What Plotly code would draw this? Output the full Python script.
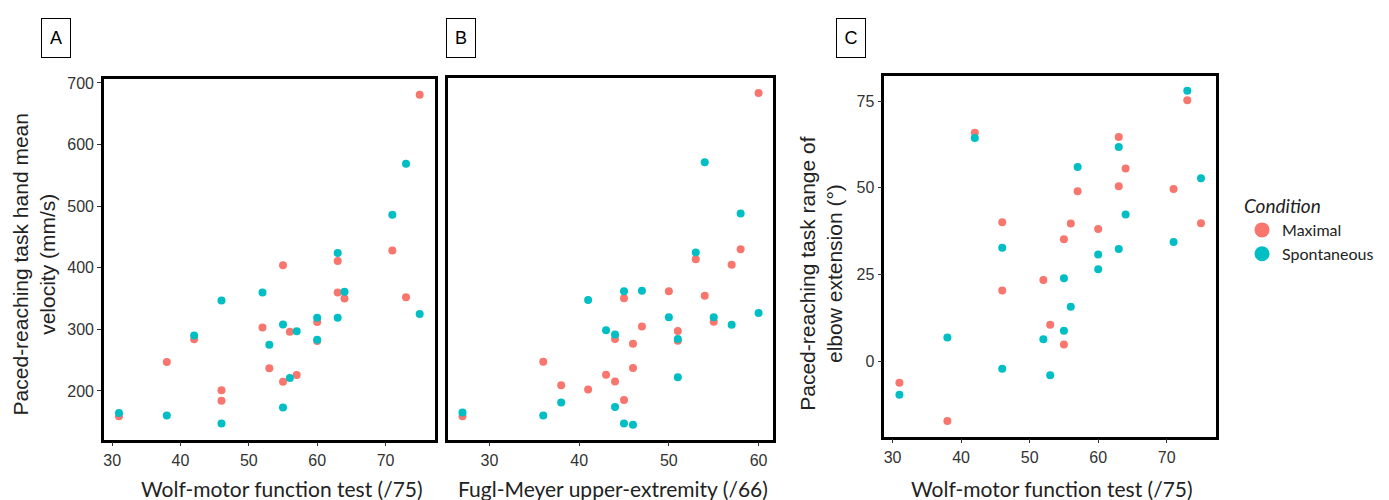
import plotly.graph_objects as go

RED = "#F8766D"
TEAL = "#00BFC4"

# Panel A: Wolf-motor function test vs hand mean velocity
a_max_x = [75, 71, 73, 63, 63, 64, 55, 60, 60, 52, 56, 53, 57, 55, 46, 46, 42, 38, 31]
a_max_y = [681, 428, 352, 411, 360, 350, 404, 312, 281, 303, 296, 237, 226, 215, 201, 184, 284, 247, 159]
a_spo_x = [73, 71, 63, 64, 63, 60, 60, 75, 52, 46, 55, 57, 53, 56, 55, 46, 42, 38, 31]
a_spo_y = [569, 486, 424, 361, 319, 319, 283, 325, 360, 347, 308, 297, 275, 221, 173, 147, 290, 160, 164]

# Panel B: Fugl-Meyer vs hand mean velocity
b_max_x = [60, 58, 57, 53, 54, 50, 45, 55, 51, 51, 47, 44, 46, 46, 43, 44, 45, 41, 38, 36, 27]
b_max_y = [682, 429, 404, 413, 354, 361, 350, 312, 297, 281, 304, 284, 276, 237, 226, 215, 185, 202, 209, 247, 159]
b_spo_x = [54, 58, 53, 45, 47, 41, 50, 55, 57, 60, 51, 43, 44, 51, 38, 44, 45, 46, 36, 27]
b_spo_y = [570, 487, 424, 361, 362, 347, 319, 319, 307, 326, 284, 298, 291, 222, 181, 174, 147, 145, 160, 165]

# Panel C: Wolf-motor function test vs range of elbow extension
c_max_x = [42, 63, 64, 63, 57, 46, 56, 60, 55, 52, 46, 53, 55, 31, 38, 73, 71, 75]
c_max_y = [65.9, 64.7, 55.6, 50.5, 49.0, 40.1, 39.7, 38.1, 35.2, 23.4, 20.4, 10.5, 4.8, -6.2, -17.3, 75.3, 49.7, 39.8]
c_spo_x = [42, 63, 57, 64, 46, 63, 60, 60, 55, 56, 55, 38, 52, 46, 53, 31, 73, 75, 71]
c_spo_y = [64.4, 61.8, 56.0, 42.3, 32.7, 32.4, 30.8, 26.5, 23.9, 15.7, 8.8, 6.8, 6.3, -2.2, -4.1, -9.7, 78.0, 52.8, 34.4]

# the page body has an 8px margin, so the figure is a bit smaller than the window
W, H = 1381, 492

fig = go.Figure()

panels = [
    (a_max_x, a_max_y, a_spo_x, a_spo_y, "x", "y"),
    (b_max_x, b_max_y, b_spo_x, b_spo_y, "x2", "y2"),
    (c_max_x, c_max_y, c_spo_x, c_spo_y, "x3", "y3"),
]
for mx, my, sx, sy, xa, ya in panels:
    fig.add_trace(go.Scatter(x=mx, y=my, mode="markers", xaxis=xa, yaxis=ya,
                             marker=dict(color=RED, size=8), showlegend=False))
    fig.add_trace(go.Scatter(x=sx, y=sy, mode="markers", xaxis=xa, yaxis=ya,
                             marker=dict(color=TEAL, size=8), showlegend=False))

# legend entries with bigger keys
fig.add_trace(go.Scatter(x=[None], y=[None], mode="markers", name="Maximal",
                         marker=dict(color=RED, size=15)))
fig.add_trace(go.Scatter(x=[None], y=[None], mode="markers", name="Spontaneous",
                         marker=dict(color=TEAL, size=15)))

tickfont = dict(family="Liberation Sans, Arial", size=16, color="#333333")
frame = dict(showline=True, linecolor="black", linewidth=2.5, mirror=True,
             showgrid=False, zeroline=False, ticks="outside", ticklen=4,
             tickcolor="#333333", tickwidth=1, tickfont=tickfont)

fig.update_layout(
    width=W, height=H,
    margin=dict(l=0, r=0, t=0, b=0),
    paper_bgcolor="white", plot_bgcolor="white",
    xaxis=dict(domain=[0.0688, 0.3085], range=[28.8, 77.2], anchor="y",
               tickvals=[30, 40, 50, 60, 70], **frame),
    yaxis=dict(domain=[0.124, 0.864], range=[121, 706], anchor="x",
               tickvals=[200, 300, 400, 500, 600, 700], **frame),
    xaxis2=dict(domain=[0.3179, 0.5539], range=[25.35, 61.65], anchor="y2",
                tickvals=[30, 40, 50, 60], **frame),
    yaxis2=dict(domain=[0.124, 0.866], range=[121, 706], anchor="x2",
                **{**frame, "ticks": "", "showticklabels": False}),
    xaxis3=dict(domain=[0.6343, 0.8747], range=[28.8, 77.2], anchor="y3",
                tickvals=[30, 40, 50, 60, 70], **frame),
    yaxis3=dict(domain=[0.130, 0.870], range=[-21.8, 82.2], anchor="x3",
                tickvals=[0, 25, 50, 75], **frame),
    legend=dict(x=0.8935, y=0.64, xanchor="left", yanchor="top",
                title=dict(text="<i>Condition</i>",
                           font=dict(family="Lato, Open Sans", size=19, color="#222")),
                font=dict(family="Lato, Open Sans", size=16, color="#222"),
                tracegroupgap=0),
)

title_font = dict(family="Lato, Open Sans", size=21, color="#222")
ytitle_font = dict(family="Liberation Sans, Arial", size=21, color="#222")

# x-axis titles
for xc, txt in [(0.1977, "Wolf-motor function test (/75)"),
                (0.438, "Fugl-Meyer upper-extremity (/66)"),
                (0.756, "Wolf-motor function test (/75)")]:
    fig.add_annotation(x=xc, y=0.0244, xref="paper", yref="paper", text=txt,
                       showarrow=False, font=title_font,
                       xanchor="center", yanchor="middle")

# y-axis titles
fig.add_annotation(x=0.0181, y=0.4837, xref="paper", yref="paper", textangle=-90,
                   text="Paced-reaching task hand mean<br>velocity (mm/s)",
                   showarrow=False, font=ytitle_font,
                   xanchor="center", yanchor="middle")
fig.add_annotation(x=0.5887, y=0.4654, xref="paper", yref="paper", textangle=-90,
                   text="Paced-reaching task range of<br>elbow extension (°)",
                   showarrow=False, font=ytitle_font,
                   xanchor="center", yanchor="middle")

# panel letters
for xc, letter in [(0.0344, "A"), (0.3277, "B"), (0.6104, "C")]:
    fig.add_annotation(x=xc, y=0.949, xref="paper", yref="paper", text=letter,
                       showarrow=False, bordercolor="black", borderwidth=1,
                       borderpad=1, width=26, height=36,
                       xanchor="center", yanchor="middle",
                       font=dict(family="Liberation Sans, Arial", size=18, color="black"))

fig.write_html("out.html")
